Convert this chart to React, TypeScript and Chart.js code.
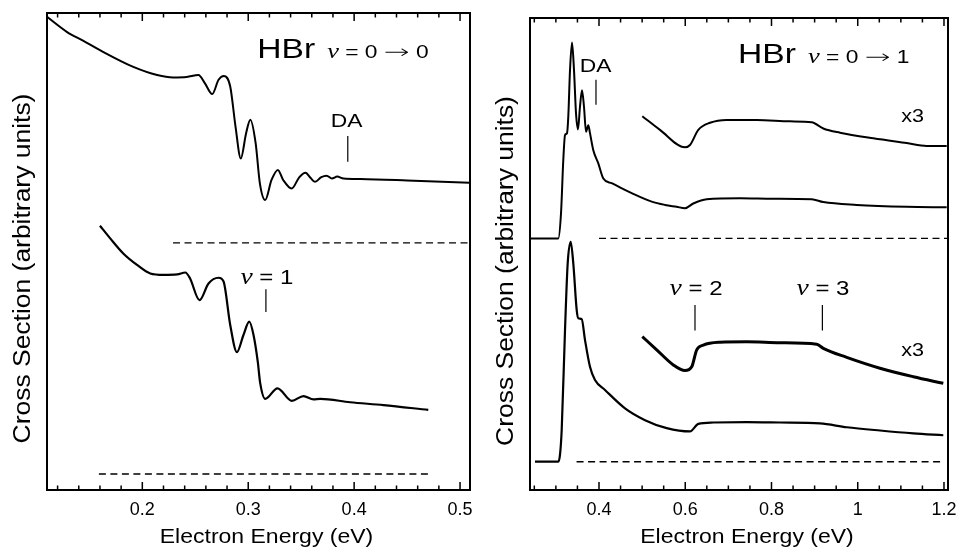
import React, { useEffect, useRef } from 'react';
import { Chart, registerables } from 'chart.js';

Chart.register(...registerables);

const SANS = '"Liberation Sans", Arial, Helvetica, sans-serif';
const SERIF = '"Liberation Serif", "Times New Roman", serif';
const ARROW = '"DejaVu Sans", sans-serif';

// ---------------- Left panel: HBr v = 0 -> 0 ----------------
const L_X_MIN = 0.11;
const L_X_MAX = 0.5094;
const L_MAJOR = [0.2, 0.3, 0.4, 0.5];
const L_TICK_LABELS = ['0.2', '0.3', '0.4', '0.5'];
const L_MINOR = [0.12, 0.14, 0.16, 0.18, 0.22, 0.24, 0.26, 0.28, 0.32, 0.34, 0.36, 0.38, 0.42, 0.44, 0.46, 0.48];

// elastic (v=0) curve
const L_TOP_E = [0.110, 0.129, 0.144, 0.160, 0.1915, 0.214, 0.229, 0.242, 0.253, 0.259, 0.266, 0.272, 0.277, 0.283, 0.288, 0.293, 0.298, 0.302, 0.307, 0.311, 0.316, 0.322, 0.328, 0.333, 0.341, 0.348, 0.354, 0.359, 0.363, 0.369, 0.374, 0.379, 0.384, 0.390, 0.406, 0.450, 0.509];
const L_TOP_Y = [99.2, 96.0, 94.2, 92.2, 88.7, 87.0, 86.5, 86.6, 87.0, 85.3, 83.0, 86.0, 86.8, 84.6, 76.2, 69.5, 74.8, 77.6, 72.7, 64.3, 60.8, 65.0, 67.1, 65.0, 63.2, 65.5, 66.5, 65.4, 64.6, 65.6, 65.9, 65.3, 65.7, 65.3, 65.2, 64.9, 64.4];

// v = 1 curve
const L_BOT_E = [0.160, 0.1695, 0.182, 0.195, 0.2075, 0.220, 0.233, 0.2406, 0.245, 0.254, 0.2625, 0.272, 0.2767, 0.283, 0.2893, 0.2955, 0.301, 0.305, 0.309, 0.3113, 0.316, 0.3276, 0.3412, 0.3522, 0.3616, 0.368, 0.3962, 0.4277, 0.470];
const L_BOT_Y = [55.4, 52.8, 49.6, 47.2, 45.4, 45.1, 45.2, 45.6, 44.4, 39.8, 43.3, 44.5, 43.7, 34.6, 28.9, 32.5, 35.3, 32.5, 26.9, 22.4, 19.1, 21.3, 18.7, 19.7, 19.0, 19.1, 18.4, 17.8, 16.8];

// zero lines (dashed)
const L_ZERO_TOP_E = [0.229, 0.5094];
const L_ZERO_TOP_Y = [51.8, 51.8];
const L_ZERO_BOT_E = [0.159, 0.470];
const L_ZERO_BOT_Y = [3.35, 3.35];

// marker bars
const L_MARK_DA_E = [0.394, 0.394];
const L_MARK_DA_Y = [68.8, 74.2];
const L_MARK_V1_E = [0.3167, 0.3167];
const L_MARK_V1_Y = [37.3, 42.1];

// ---------------- Right panel: HBr v = 0 -> 1 ----------------
const R_X_MIN = 0.24;
const R_X_MAX = 1.2093;
const R_MAJOR = [0.4, 0.6, 0.8, 1.0, 1.2];
const R_TICK_LABELS = ['0.4', '0.6', '0.8', '1', '1.2'];
const R_MINOR = [0.25, 0.3, 0.35, 0.45, 0.5, 0.55, 0.65, 0.7, 0.75, 0.85, 0.9, 0.95, 1.05, 1.1, 1.15];

// upper (v=1) curve
const R_TOP_E = [0.240, 0.3056, 0.3119, 0.3172, 0.3212, 0.3258, 0.3288, 0.3328, 0.3374, 0.3420, 0.3467, 0.3513, 0.3559, 0.3606, 0.3652, 0.3699, 0.3752, 0.3791, 0.3868, 0.3984, 0.410, 0.4294, 0.4758, 0.5222, 0.553, 0.580, 0.5994, 0.6187, 0.6497, 0.727, 0.8042, 0.8932, 0.9201, 0.9976, 1.1135, 1.2063];
const R_TOP_Y = [53.3, 53.3, 58.6, 69.9, 75.2, 75.6, 79.1, 89.0, 94.8, 89.0, 79.8, 76.4, 81.2, 84.7, 81.2, 75.9, 77.3, 75.6, 72.0, 69.2, 66.0, 65.0, 62.9, 61.1, 60.4, 60.0, 59.7, 60.7, 61.6, 61.8, 61.7, 61.6, 61.0, 60.4, 60.0, 59.9];

// upper x3 curve
const R_TOP3_E = [0.5004, 0.5414, 0.5994, 0.611, 0.6303, 0.6574, 0.6961, 0.7657, 0.8429, 0.8932, 0.9201, 0.9589, 1.0361, 1.1135, 1.1599, 1.2063];
const R_TOP3_Y = [79.2, 76.3, 72.6, 73.1, 76.3, 77.8, 78.4, 78.4, 78.1, 77.9, 76.6, 75.7, 74.5, 73.5, 72.9, 72.9];

// lower curve
const R_BOT_E = [0.2516, 0.3056, 0.3096, 0.3135, 0.3212, 0.3274, 0.3344, 0.3404, 0.3483, 0.352, 0.3599, 0.3675, 0.3791, 0.3907, 0.4139, 0.4603, 0.5067, 0.557, 0.611, 0.6303, 0.665, 0.7425, 0.8197, 0.9125, 0.9744, 1.0516, 1.1288, 1.1984];
const R_BOT_Y = [6.0, 6.0, 7.5, 12.7, 33.9, 48.0, 52.6, 48.0, 38.1, 36.4, 36.2, 31.8, 26.1, 23.3, 21.2, 17.3, 14.8, 13.1, 12.4, 14.0, 14.3, 14.4, 14.3, 14.1, 13.3, 12.6, 12.0, 11.6];

// lower x3 curve
const R_BOT3_E = [0.5004, 0.5338, 0.5723, 0.5994, 0.615, 0.6266, 0.6419, 0.6806, 0.7425, 0.8197, 0.9048, 0.9201, 0.9744, 1.0516, 1.1288, 1.1984];
const R_BOT3_Y = [32.5, 29.7, 26.5, 25.3, 26.1, 29.7, 30.7, 31.3, 31.4, 31.2, 30.9, 30.0, 28.1, 25.8, 24.0, 22.6];

const R_ZERO_TOP_E = [0.40, 1.2093];
const R_ZERO_TOP_Y = [53.3, 53.3];
const R_ZERO_BOT_E = [0.348, 1.195];
const R_ZERO_BOT_Y = [6.0, 6.0];

const R_MARK_DA_E = [0.393, 0.393];
const R_MARK_DA_Y = [81.6, 86.9];
const R_MARK_V2_E = [0.6226, 0.6226];
const R_MARK_V2_Y = [33.8, 39.2];
const R_MARK_V3_E = [0.918, 0.918];
const R_MARK_V3_Y = [33.8, 39.2];

// ---------------- Text annotations ----------------
type Part = { t: string; serif?: boolean; italic?: boolean; arrow?: boolean; dsize?: number; sx?: number };
type Note = { parts: Part[]; x: number; y: number; size: number; align: 'left' | 'center' };

const NU: Part = { t: 'ν', serif: true, italic: true, dsize: 3 };
const NU_00: Part[] = [NU, { t: ' = 0 ' }, { t: '→', arrow: true, sx: 1.35 }, { t: ' 0' }];
const NU_01: Part[] = [NU, { t: ' = 0 ' }, { t: '→', arrow: true, sx: 1.35 }, { t: ' 1' }];

const L_NOTES: Note[] = [
  { parts: [{ t: 'HBr' }], x: 0.3085, y: 90.5, size: 28, align: 'left' },
  { parts: NU_00, x: 0.3745, y: 90.5, size: 19, align: 'left' },
  { parts: [{ t: 'DA' }], x: 0.3929, y: 76.2, size: 19, align: 'center' },
  { parts: [NU, { t: ' = 1' }], x: 0.3176, y: 43.2, size: 20, align: 'center' },
];

const R_NOTES: Note[] = [
  { parts: [{ t: 'HBr' }], x: 0.7223, y: 90.4, size: 28, align: 'left' },
  { parts: NU_01, x: 0.8846, y: 90.4, size: 19, align: 'left' },
  { parts: [{ t: 'DA' }], x: 0.3919, y: 88.6, size: 19, align: 'center' },
  { parts: [{ t: 'x3' }], x: 1.1273, y: 77.9, size: 18, align: 'center' },
  { parts: [NU, { t: ' = 2' }], x: 0.625, y: 41.3, size: 20, align: 'center' },
  { parts: [NU, { t: ' = 3' }], x: 0.9194, y: 41.3, size: 20, align: 'center' },
  { parts: [{ t: 'x3' }], x: 1.1273, y: 28.4, size: 18, align: 'center' },
];

const X_TITLE = 'Electron Energy (eV)';
const Y_TITLE = 'Cross Section (arbitrary units)';

const SX = 1.2; // horizontal stretch of lettering in the figure

const zip = (xs: number[], ys: number[]) => xs.map((x, i) => ({ x, y: ys[i] }));

function fontOf(p: Part, size: number) {
  const s = size + (p.dsize || 0);
  if (p.arrow) return `200 ${s}px ${ARROW}`;
  const fam = p.serif ? SERIF : SANS;
  return `${p.italic ? 'italic ' : ''}${s}px ${fam}`;
}

function drawNote(ctx: CanvasRenderingContext2D, n: Note, px: number, py: number) {
  const widths = n.parts.map((p) => {
    ctx.font = fontOf(p, n.size);
    return ctx.measureText(p.t).width * SX * (p.sx || 1);
  });
  const total = widths.reduce((a, b) => a + b, 0);
  let cx = n.align === 'center' ? px - total / 2 : px;
  n.parts.forEach((p, i) => {
    ctx.save();
    ctx.translate(cx, py);
    ctx.scale(SX * (p.sx || 1), 1);
    ctx.font = fontOf(p, n.size);
    ctx.fillStyle = '#000';
    ctx.textAlign = 'left';
    ctx.textBaseline = 'alphabetic';
    ctx.fillText(p.t, 0, 0);
    ctx.restore();
    cx += widths[i];
  });
}

type Panel = {
  xMin: number;
  xMax: number;
  major: number[];
  labels: string[];
  minor: number[];
  curves: { e: number[]; y: number[]; w: number }[];
  zeros: { e: number[]; y: number[] }[];
  marks: { e: number[]; y: number[] }[];
  notes: Note[];
  pad: { left: number; right: number; top: number };
};

const LEFT: Panel = {
  xMin: L_X_MIN,
  xMax: L_X_MAX,
  major: L_MAJOR,
  labels: L_TICK_LABELS,
  minor: L_MINOR,
  curves: [
    { e: L_TOP_E, y: L_TOP_Y, w: 2 },
    { e: L_BOT_E, y: L_BOT_Y, w: 2.2 },
  ],
  zeros: [
    { e: L_ZERO_TOP_E, y: L_ZERO_TOP_Y },
    { e: L_ZERO_BOT_E, y: L_ZERO_BOT_Y },
  ],
  marks: [
    { e: L_MARK_DA_E, y: L_MARK_DA_Y },
    { e: L_MARK_V1_E, y: L_MARK_V1_Y },
  ],
  notes: L_NOTES,
  pad: { left: 47, right: 10, top: 13 },
};

const RIGHT: Panel = {
  xMin: R_X_MIN,
  xMax: R_X_MAX,
  major: R_MAJOR,
  labels: R_TICK_LABELS,
  minor: R_MINOR,
  curves: [
    { e: R_TOP_E, y: R_TOP_Y, w: 2 },
    { e: R_TOP3_E, y: R_TOP3_Y, w: 2 },
    { e: R_BOT_E, y: R_BOT_Y, w: 2.2 },
    { e: R_BOT3_E, y: R_BOT3_Y, w: 3 },
  ],
  zeros: [
    { e: R_ZERO_TOP_E, y: R_ZERO_TOP_Y },
    { e: R_ZERO_BOT_E, y: R_ZERO_BOT_Y },
  ],
  marks: [
    { e: R_MARK_DA_E, y: R_MARK_DA_Y },
    { e: R_MARK_V2_E, y: R_MARK_V2_Y },
    { e: R_MARK_V3_E, y: R_MARK_V3_Y },
  ],
  notes: R_NOTES,
  pad: { left: 50, right: 10, top: 18 },
};

const CANVAS_H = 551;
const AXIS_H = 61;

function buildChart(canvas: HTMLCanvasElement, P: Panel) {
  const datasets: any[] = [];
  P.curves.forEach((c) =>
    datasets.push({
      data: zip(c.e, c.y),
      borderColor: '#000',
      borderWidth: c.w,
      pointRadius: 0,
      fill: false,
      cubicInterpolationMode: 'monotone',
    })
  );
  P.zeros.forEach((z) =>
    datasets.push({
      data: zip(z.e, z.y),
      borderColor: '#000',
      borderWidth: 1.4,
      borderDash: [7, 4.5],
      pointRadius: 0,
      fill: false,
      tension: 0,
    })
  );
  P.marks.forEach((m) =>
    datasets.push({
      data: zip(m.e, m.y),
      borderColor: '#000',
      borderWidth: 1.2,
      pointRadius: 0,
      fill: false,
      tension: 0,
    })
  );

  const framePlugin = {
    id: 'frameAndText',
    afterDraw(chart: any) {
      const ctx: CanvasRenderingContext2D = chart.ctx;
      const { left, right, top, bottom } = chart.chartArea;
      const xs = chart.scales.x;
      const ys = chart.scales.y;
      ctx.save();
      ctx.strokeStyle = '#000';
      // ticks (inward, top and bottom)
      ctx.lineWidth = 1.5;
      const tick = (v: number, len: number) => {
        const px = xs.getPixelForValue(v);
        ctx.beginPath();
        ctx.moveTo(px, bottom);
        ctx.lineTo(px, bottom - len);
        ctx.moveTo(px, top);
        ctx.lineTo(px, top + len);
        ctx.stroke();
      };
      P.major.forEach((v) => tick(v, 8));
      P.minor.forEach((v) => tick(v, 4.5));
      // frame
      ctx.lineWidth = 2;
      ctx.strokeRect(left, top, right - left, bottom - top);
      // annotations
      P.notes.forEach((n) => drawNote(ctx, n, xs.getPixelForValue(n.x), ys.getPixelForValue(n.y)));
      // x title
      ctx.save();
      ctx.translate((left + right) / 2 + 8, bottom + 53);
      ctx.scale(1.15, 1);
      ctx.font = `20px ${SANS}`;
      ctx.fillStyle = '#000';
      ctx.textAlign = 'center';
      ctx.textBaseline = 'alphabetic';
      ctx.fillText(X_TITLE, 0, 0);
      ctx.restore();
      // y title
      ctx.save();
      ctx.translate(left - 23, (top + bottom) / 2 + 17);
      ctx.rotate(-Math.PI / 2);
      ctx.scale(1.15, 1);
      ctx.font = `23px ${SANS}`;
      ctx.fillStyle = '#000';
      ctx.textAlign = 'center';
      ctx.textBaseline = 'middle';
      ctx.fillText(Y_TITLE, 0, 0);
      ctx.restore();
      ctx.restore();
    },
  };

  return new Chart(canvas, {
    type: 'line',
    data: { datasets },
    options: {
      animation: false,
      responsive: false,
      maintainAspectRatio: false,
      events: [],
      layout: { padding: { left: P.pad.left, right: P.pad.right, top: P.pad.top, bottom: 0 } },
      plugins: { legend: { display: false }, tooltip: { enabled: false } },
      scales: {
        x: {
          type: 'linear',
          min: P.xMin,
          max: P.xMax,
          afterBuildTicks: (s: any) => {
            s.ticks = P.major.map((v) => ({ value: v }));
          },
          afterFit: (s: any) => {
            s.height = AXIS_H;
            s.paddingLeft = 0;
            s.paddingRight = 0;
          },
          grid: { display: false, drawTicks: false },
          border: { display: false },
          ticks: {
            color: '#000',
            font: { family: SANS, size: 18 },
            padding: 9,
            maxRotation: 0,
            autoSkip: false,
            callback: (_v: any, i: number) => P.labels[i],
          },
        },
        y: { type: 'linear', min: 0, max: 100, display: false },
      },
    },
    plugins: [framePlugin],
  } as any);
}

function PanelChart({ panel, left, width }: { panel: Panel; left: number; width: number }) {
  const ref = useRef<HTMLCanvasElement | null>(null);
  useEffect(() => {
    if (!ref.current) return;
    const chart = buildChart(ref.current, panel);
    return () => chart.destroy();
  }, [panel]);
  return (
    <canvas
      ref={ref}
      width={width}
      height={CANVAS_H}
      style={{ position: 'absolute', left, top: 0, width, height: CANVAS_H, display: 'block' }}
    />
  );
}

export default function App() {
  return (
    <div style={{ position: 'absolute', left: 0, top: 0, width: 958, height: 551, background: '#fff' }}>
      <PanelChart panel={LEFT} left={0} width={480} />
      <PanelChart panel={RIGHT} left={480} width={478} />
    </div>
  );
}
